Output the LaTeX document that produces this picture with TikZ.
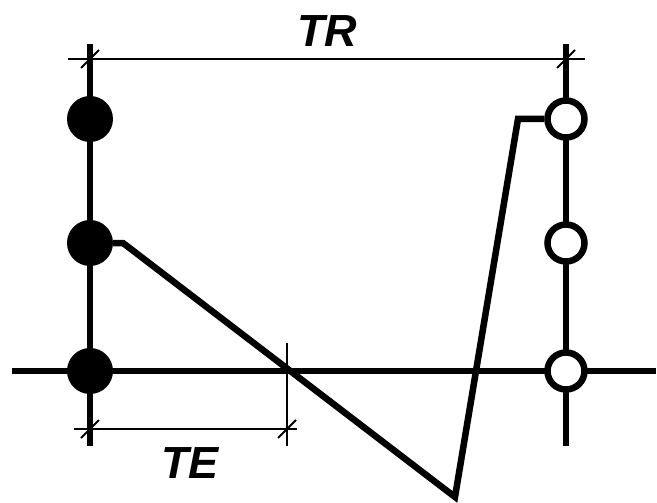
\documentclass[tikz,border=0pt]{standalone}
\usepackage{fontspec}
\setmainfont{Liberation Sans}
\usetikzlibrary{calc}
\tikzset{
  heavy/.style={line width=6.5pt},
  dimline/.style={line width=1.8pt},
  fdot/.style={circle,fill=black,minimum size=46pt,inner sep=0pt},
  odot/.style={circle,draw=black,fill=white,line width=6.5pt,minimum size=37pt,inner sep=0pt},
  lbl/.style={font=\fontsize{45}{45}\selectfont\bfseries\itshape,inner sep=0pt}
}
\begin{document}
\begin{tikzpicture}[x=1pt,y=-1pt]
\useasboundingbox (0,0) rectangle (657,503);
% frame coordinates
\coordinate (lt) at (90,44);
\coordinate (lb) at (90,446);
\coordinate (rt) at (566,44);
\coordinate (rb) at (566,446);
\coordinate (al) at (12,371);
\coordinate (ar) at (656,371);
% vertical lines and axis
\draw[heavy] (lt) -- (lb);
\draw[heavy] (rt) -- (rb);
\draw[heavy] (al) -- (ar);
% dimension TR
\coordinate (trl) at (68,59);
\coordinate (trr) at (585,59);
\coordinate (trp1) at (90,59);
\coordinate (trp2) at (566,59);
\draw[dimline] (trl) -- (trr);
\draw[dimline] ($(trp1)+(-9,9)$) -- ($(trp1)+(9,-9)$);
\draw[dimline] ($(trp2)+(-9,9)$) -- ($(trp2)+(9,-9)$);
% dimension TE
\coordinate (tel) at (74,429);
\coordinate (ter) at (297,429);
\coordinate (tep1) at (90,429);
\coordinate (tep2) at (287,429);
\coordinate (tvt) at (287,343);
\coordinate (tvb) at (287,446);
\draw[dimline] (tel) -- (ter);
\draw[dimline] (tvt) -- (tvb);
\draw[dimline] ($(tep1)+(-9,9)$) -- ($(tep1)+(9,-9)$);
\draw[dimline] ($(tep2)+(-9,9)$) -- ($(tep2)+(9,-9)$);
% dots
\node[fdot] (f1) at (90,119) {};
\node[fdot] (f2) at (90,243) {};
\node[fdot] (f3) at (90,371) {};
\node[odot] (o1) at (566,119) {};
\node[odot] (o2) at (566,243) {};
\node[odot] (o3) at (566,371) {};
% main waveform
\coordinate (c1) at (123,243);
\coordinate (c2) at (455,497);
\coordinate (c3) at (518,119);
\draw[heavy,line join=miter] (f2.east) -- (c1) -- (c2) -- (c3) -- (o1.west);
% labels
\node[lbl] (tr) at (327,31) {TR};
\node[lbl] (te) at (190,463) {TE};
\end{tikzpicture}
\end{document}
